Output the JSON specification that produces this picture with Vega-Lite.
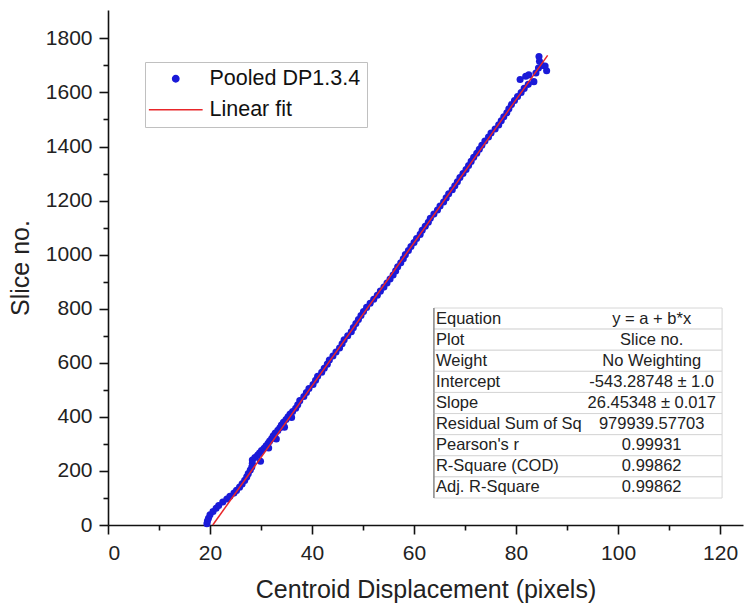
{
  "$schema": "https://vega.github.io/schema/vega-lite/v6.json",
  "width": 635,
  "height": 515,
  "autosize": {"type": "none"},
  "padding": {"left": 108, "top": 10, "right": 1, "bottom": 85},
  "background": "white",
  "config": {
    "view": {"stroke": null},
    "font": "Liberation Sans",
    "axis": {
      "grid": false,
      "domainColor": "#111",
      "domainWidth": 1.6,
      "tickColor": "#111",
      "tickWidth": 1.6,
      "labelFont": "Liberation Sans",
      "labelFontSize": 21,
      "labelColor": "#222",
      "titleFont": "Liberation Sans",
      "titleFontSize": 25,
      "titleFontWeight": "normal",
      "titleColor": "#222"
    },
    "legend": {
      "orient": "none",
      "legendX": 37,
      "legendY": 52,
      "labelFont": "Liberation Sans",
      "labelFontSize": 21.5,
      "labelColor": "#111",
      "symbolSize": 40,
      "symbolOffset": 14,
      "labelOffset": 23,
      "padding": 6,
      "rowPadding": 8,
      "strokeColor": "#c0c0c0",
      "fillColor": "white"
    }
  },
  "datasets": {
    "pts": [
      {"x": 19.4, "y": 5}, {"x": 19.5, "y": 15}, {"x": 19.7, "y": 25}, {"x": 20.0, "y": 38}, {"x": 20.6, "y": 50},
      {"x": 21.2, "y": 62}, {"x": 21.7, "y": 72}, {"x": 22.5, "y": 85}, {"x": 23.3, "y": 96}, {"x": 23.9, "y": 106},
      {"x": 24.7, "y": 118}, {"x": 25.2, "y": 128}, {"x": 25.8, "y": 140}, {"x": 26.3, "y": 152}, {"x": 26.8, "y": 165},
      {"x": 27.2, "y": 178}, {"x": 27.5, "y": 190}, {"x": 27.9, "y": 203}, {"x": 28.2, "y": 215}, {"x": 28.3, "y": 228},
      {"x": 28.3, "y": 240}, {"x": 28.8, "y": 250}, {"x": 29.3, "y": 258}, {"x": 29.7, "y": 266}, {"x": 30.1, "y": 275},
      {"x": 30.6, "y": 284}, {"x": 31.0, "y": 293}, {"x": 31.4, "y": 302}, {"x": 31.7, "y": 311}, {"x": 32.1, "y": 320},
      {"x": 32.4, "y": 330}, {"x": 32.8, "y": 340}, {"x": 33.3, "y": 350}, {"x": 33.7, "y": 360}, {"x": 34.0, "y": 370},
      {"x": 34.4, "y": 380}, {"x": 34.9, "y": 390}, {"x": 35.3, "y": 400}, {"x": 35.7, "y": 410}, {"x": 36.2, "y": 420},
      {"x": 36.8, "y": 432}, {"x": 29.9, "y": 236}, {"x": 31.5, "y": 285}, {"x": 33.0, "y": 318}, {"x": 34.6, "y": 362},
      {"x": 36.0, "y": 398},
      {"x": 37.2, "y": 445}, {"x": 37.6, "y": 460}, {"x": 38.4, "y": 475}, {"x": 38.9, "y": 490}, {"x": 39.4, "y": 505},
      {"x": 40.2, "y": 520}, {"x": 40.7, "y": 535}, {"x": 41.1, "y": 550}, {"x": 41.9, "y": 565}, {"x": 42.4, "y": 580},
      {"x": 43.0, "y": 595}, {"x": 43.4, "y": 610}, {"x": 44.1, "y": 625}, {"x": 44.7, "y": 640}, {"x": 45.4, "y": 655},
      {"x": 45.9, "y": 670}, {"x": 46.3, "y": 685}, {"x": 47.0, "y": 700}, {"x": 47.7, "y": 715}, {"x": 48.1, "y": 730},
      {"x": 48.6, "y": 745}, {"x": 49.1, "y": 760}, {"x": 49.6, "y": 775}, {"x": 50.1, "y": 790}, {"x": 50.7, "y": 805},
      {"x": 51.4, "y": 820}, {"x": 52.1, "y": 835}, {"x": 52.8, "y": 850}, {"x": 53.4, "y": 865}, {"x": 54.1, "y": 880},
      {"x": 54.7, "y": 895}, {"x": 55.3, "y": 910}, {"x": 55.9, "y": 925}, {"x": 56.4, "y": 940}, {"x": 56.8, "y": 955},
      {"x": 57.4, "y": 970}, {"x": 57.9, "y": 985}, {"x": 58.3, "y": 1000}, {"x": 58.9, "y": 1015}, {"x": 59.4, "y": 1030},
      {"x": 60.0, "y": 1045}, {"x": 60.5, "y": 1060}, {"x": 61.2, "y": 1075}, {"x": 61.6, "y": 1090}, {"x": 62.2, "y": 1105},
      {"x": 62.8, "y": 1120}, {"x": 63.2, "y": 1135}, {"x": 63.9, "y": 1150}, {"x": 64.6, "y": 1165}, {"x": 65.1, "y": 1180},
      {"x": 65.8, "y": 1195}, {"x": 66.3, "y": 1210}, {"x": 66.8, "y": 1225}, {"x": 67.5, "y": 1240}, {"x": 68.0, "y": 1255},
      {"x": 68.5, "y": 1270}, {"x": 69.0, "y": 1285}, {"x": 69.6, "y": 1300}, {"x": 70.2, "y": 1315}, {"x": 70.7, "y": 1330},
      {"x": 71.2, "y": 1345}, {"x": 71.7, "y": 1360}, {"x": 72.3, "y": 1375}, {"x": 72.8, "y": 1390}, {"x": 73.3, "y": 1405},
      {"x": 73.9, "y": 1420}, {"x": 74.6, "y": 1435}, {"x": 75.1, "y": 1450}, {"x": 75.9, "y": 1465}, {"x": 76.6, "y": 1480},
      {"x": 77.1, "y": 1495}, {"x": 77.6, "y": 1510}, {"x": 78.2, "y": 1525}, {"x": 78.6, "y": 1540}, {"x": 79.1, "y": 1555},
      {"x": 79.7, "y": 1570}, {"x": 80.3, "y": 1585}, {"x": 81.0, "y": 1600}, {"x": 81.6, "y": 1615}, {"x": 82.4, "y": 1630},
      {"x": 80.8, "y": 1648}, {"x": 81.9, "y": 1660}, {"x": 82.5, "y": 1665}, {"x": 83.9, "y": 1672}, {"x": 86.0, "y": 1680},
      {"x": 84.4, "y": 1690}, {"x": 85.1, "y": 1700}, {"x": 84.6, "y": 1715}, {"x": 84.5, "y": 1733}, {"x": 83.5, "y": 1640},
      {"x": 85.7, "y": 1698}
    ],
    "fit": [
      {"x": 20.54, "y": 0},
      {"x": 86.2, "y": 1737}
    ],
    "table": [
      {"key": "Equation", "val": "y = a + b*x"},
      {"key": "Plot", "val": "Slice no."},
      {"key": "Weight", "val": "No Weighting"},
      {"key": "Intercept", "val": "-543.28748 ± 1.0"},
      {"key": "Slope", "val": "26.45348 ± 0.017"},
      {"key": "Residual Sum of Sq", "val": "979939.57703"},
      {"key": "Pearson's r", "val": "0.99931"},
      {"key": "R-Square (COD)", "val": "0.99862"},
      {"key": "Adj. R-Square", "val": "0.99862"}
    ]
  },
  "layer": [
    {
      "encoding": {
        "x": {"field": "x", "type": "quantitative",
          "scale": {"domain": [0, 124.5], "nice": false, "zero": false},
          "axis": {"values": [0, 10, 20, 30, 40, 50, 60, 70, 80, 90, 100, 110, 120],
            "labelExpr": "datum.value % 20 === 0 ? datum.label : ''",
            "tickSize": {"condition": {"test": "datum.value % 20 === 0", "value": 9}, "value": 5},
            "labelPadding": 8, "title": "Centroid Displacement (pixels)", "titlePadding": 14}},
        "y": {"field": "y", "type": "quantitative",
          "scale": {"domain": [0, 1905], "nice": false, "zero": false},
          "axis": {"values": [0, 100, 200, 300, 400, 500, 600, 700, 800, 900, 1000, 1100, 1200, 1300, 1400, 1500, 1600, 1700, 1800],
            "format": "d",
            "labelExpr": "datum.value % 200 === 0 ? datum.label : ''",
            "tickSize": {"condition": {"test": "datum.value % 200 === 0", "value": 9}, "value": 5},
            "labelPadding": 7, "title": "Slice no.", "titlePadding": 12}}
      },
      "layer": [
        {
          "data": {"name": "pts"},
          "transform": [{"calculate": "'Pooled DP1.3.4'", "as": "series"}],
          "mark": {"type": "point", "filled": true, "size": 50, "opacity": 1, "strokeWidth": 0},
          "encoding": {
            "color": {"field": "series", "type": "nominal",
              "scale": {"domain": ["Pooled DP1.3.4", "Linear fit"], "range": ["#1a1ad8", "#e8262a"]},
              "legend": {"title": null,
                "encode": {"symbols": {"update": {"stroke": {"signal": "datum.label === 'Linear fit' ? '#e8262a' : '#1a1ad8'"}, "strokeWidth": {"value": 2}}}}}},
            "shape": {"field": "series", "type": "nominal",
              "scale": {"domain": ["Pooled DP1.3.4", "Linear fit"], "range": ["circle", "M-8.5,0H8.5"]},
              "legend": {"title": null}}
          }
        },
        {
          "data": {"name": "fit"},
          "transform": [{"calculate": "'Linear fit'", "as": "series"}],
          "mark": {"type": "line", "strokeWidth": 1.5},
          "encoding": {
            "color": {"field": "series", "type": "nominal"}
          }
        }
      ]
    },
    {
      "data": {"name": "table"},
      "encoding": {
        "y": {"field": "key", "type": "nominal", "sort": null,
          "scale": {"type": "band", "range": [298, 488], "paddingInner": 0, "paddingOuter": 0},
          "axis": null}
      },
      "layer": [
        {
          "mark": {"type": "rect", "fill": "white", "stroke": "#d6d6d6", "strokeWidth": 1},
          "encoding": {"x": {"datum": 63.9}, "x2": {"datum": 120.4}}
        },
        {
          "mark": {"type": "rect", "stroke": "#777", "strokeWidth": 1.2, "fill": null},
          "encoding": {"x": {"datum": 63.9}, "x2": {"datum": 63.9}}
        },
        {
          "mark": {"type": "text", "align": "left", "baseline": "middle", "fontSize": 16.5, "color": "#222", "font": "Liberation Sans"},
          "encoding": {"x": {"datum": 64.3}, "text": {"field": "key"}}
        },
        {
          "mark": {"type": "text", "align": "center", "baseline": "middle", "fontSize": 16.5, "color": "#222", "font": "Liberation Sans"},
          "encoding": {"x": {"datum": 106.6}, "text": {"field": "val"}}
        }
      ]
    }
  ],
  "resolve": {"scale": {"y": "independent"}}
}
